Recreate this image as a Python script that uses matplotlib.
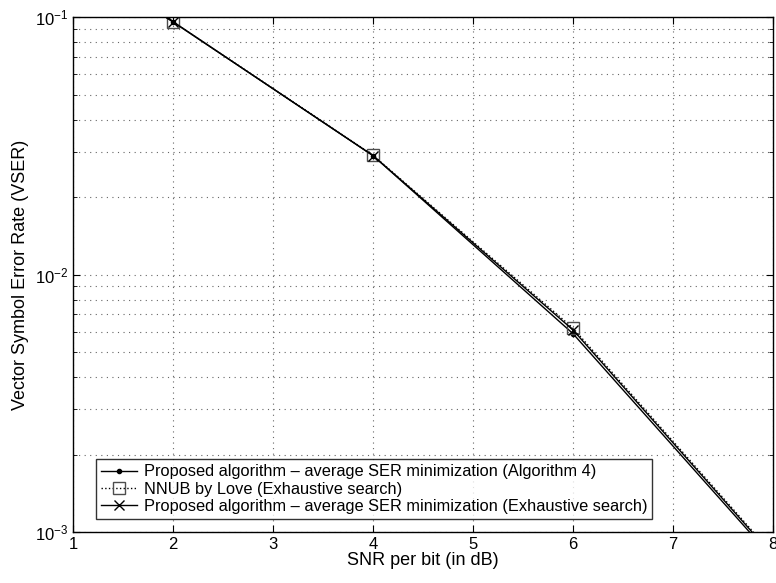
import matplotlib
matplotlib.use("Agg")
import matplotlib.pyplot as plt
from matplotlib.ticker import LogLocator, NullFormatter

plt.rcParams['font.family'] = ['Liberation Sans', 'DejaVu Sans']
plt.rcParams['mathtext.fontset'] = 'custom'
plt.rcParams['mathtext.rm'] = 'Liberation Sans'

snr = [1, 2, 4, 6, 8]
# Proposed algorithm (Algorithm 4)
vser_alg4 = [0.17, 0.096, 0.0290, 0.0059, 0.00079]
# NNUB by Love (exhaustive)
vser_nnub = [0.17, 0.096, 0.0291, 0.0062, 0.00082]
# Proposed algorithm (exhaustive)
vser_exh = [0.17, 0.096, 0.0290, 0.0061, 0.00081]

labels = ["Proposed algorithm \u2013 average SER minimization (Algorithm 4)",
          "NNUB by Love (Exhaustive search)",
          "Proposed algorithm \u2013 average SER minimization (Exhaustive search)"]

fig = plt.figure(figsize=(7.76, 5.83), dpi=100)
ax = fig.add_axes([0.094, 0.0875, 0.902, 0.883])

ax.semilogy(snr[1:], vser_alg4[1:], 'k.-', lw=1, ms=6, label=labels[0])
ax.semilogy(snr[1:], vser_nnub[1:], 'ks:', lw=1, ms=8, mfc='none', mec='0.3', label=labels[1])
ax.semilogy(snr[1:], vser_exh[1:], 'kx-', lw=1, ms=7, label=labels[2])
# segment from x=1 runs off the top of the axes
ax.semilogy(snr[:2], vser_alg4[:2], 'k-', lw=1)
ax.semilogy(snr[:2], vser_exh[:2], 'k-', lw=1)

ax.set_xlim(1, 8)
ax.set_ylim(1e-3, 1e-1)
ax.set_xticks(range(1, 9))
ax.yaxis.set_minor_locator(LogLocator(base=10, subs=range(2, 10)))
ax.yaxis.set_minor_formatter(NullFormatter())

ax.grid(True, which='major', ls=(0, (1, 4)), color='0.4', lw=0.8)
ax.grid(True, which='minor', axis='y', ls=(0, (1, 4)), color='0.4', lw=0.8)
ax.tick_params(which='both', direction='in', top=True, right=True, labelsize=12)
ax.tick_params(which='major', length=5)
ax.tick_params(which='minor', length=3)
for s in ax.spines.values():
    s.set_linewidth(1)

ax.set_xlabel("SNR per bit (in dB)", fontsize=13, labelpad=0)
ax.set_ylabel("Vector Symbol Error Rate (VSER)", fontsize=13, labelpad=4)

leg = ax.legend(loc='lower left', bbox_to_anchor=(0.033, 0.025), numpoints=1,
                fontsize=11.8, frameon=True, fancybox=False, edgecolor='k',
                borderpad=0.3, labelspacing=0.15, handlelength=2.2, handletextpad=0.4,
                borderaxespad=0)
leg.get_frame().set_linewidth(1)

fig.savefig("out.png", dpi=100)
